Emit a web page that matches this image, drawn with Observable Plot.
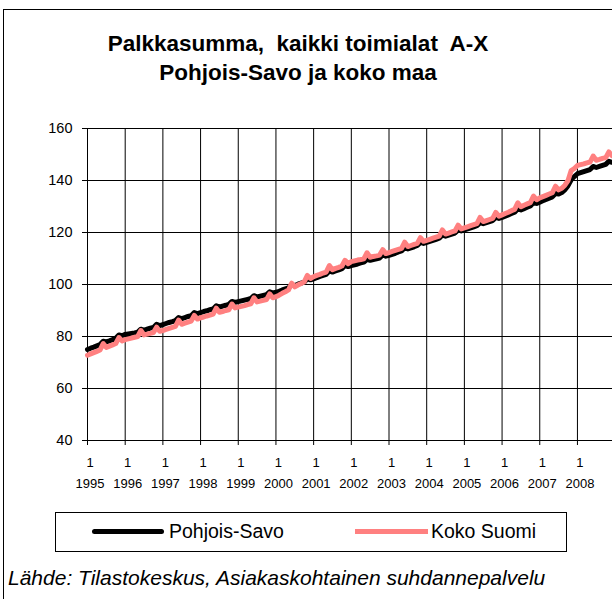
<!DOCTYPE html>
<html><head><meta charset="utf-8">
<script src="https://cdn.jsdelivr.net/npm/d3@7"></script>
<script src="https://cdn.jsdelivr.net/npm/@observablehq/plot@0.6"></script>
<style>
html,body{margin:0;padding:0;background:#fff;overflow:hidden;}
#wrap{position:relative;width:612px;height:599px;overflow:hidden;font-family:"Liberation Sans",Arial,sans-serif;color:#000;}
#frame{position:absolute;left:3px;top:9px;width:700px;height:700px;border:1px solid #000;box-sizing:border-box;}
.title{position:absolute;left:0;width:596px;text-align:center;font-weight:bold;font-size:22.5px;line-height:29px;white-space:pre;}
#chart{position:absolute;left:0;top:0;}
#legend{position:absolute;left:55px;top:512px;width:512px;height:40px;border:1px solid #000;box-sizing:border-box;}
.sw{position:absolute;height:5px;}
.lt{position:absolute;font-size:19.5px;line-height:22px;white-space:nowrap;}
#caption{position:absolute;left:8px;top:566px;font-size:21px;line-height:24px;font-style:italic;white-space:nowrap;}
</style>
</head><body>
<div id="wrap">
  <div id="frame"></div>
  <div id="chart"></div>
  <div class="title" id="t1" style="top:29px"></div>
  <div class="title" id="t2" style="top:58px"></div>
  <div id="legend"></div>
  <div id="caption"></div>
</div>
<script>
const titleLines = ["Palkkasumma,  kaikki toimialat  A-X", "Pohjois-Savo ja koko maa"];
const caption = "Lähde: Tilastokeskus, Asiakaskohtainen suhdannepalvelu";
const seriesNames = ["Pohjois-Savo", "Koko Suomi"];
const seriesColors = ["#000000", "#ff8080"];
const startYear = 1995;
const yearTicks = [1995,1996,1997,1998,1999,2000,2001,2002,2003,2004,2005,2006,2007,2008];
const yTicks = [40,60,80,100,120,140,160];

// monthly index values, Jan 1995 .. Dec 2008
const pohjoisSavo = [
  75.0,75.5,75.9,76.4,76.9,78.2,77.9,78.3,78.8,79.3,80.6,80.3,
  80.8,81.0,81.2,81.4,81.7,82.8,82.4,82.8,83.2,83.5,84.7,84.2,
  84.6,85.0,85.4,85.7,86.1,87.3,86.9,87.3,87.7,88.0,89.2,88.8,
  89.2,89.6,89.9,90.3,90.6,91.8,91.3,91.7,92.0,92.4,93.5,93.1,
  93.4,93.7,94.0,94.3,94.6,95.7,95.2,95.5,95.8,96.1,97.2,96.7,
  97.0,97.4,97.9,98.3,98.7,100.0,99.6,100.1,100.5,100.9,102.2,101.8,
  102.2,102.6,103.1,103.5,103.9,105.2,104.8,105.2,105.6,106.1,107.3,106.9,
  107.3,107.6,107.9,108.3,108.6,109.7,109.3,109.6,109.9,110.2,111.4,110.9,
  111.2,111.6,112.0,112.5,112.9,114.1,113.7,114.1,114.5,115.0,116.2,115.8,
  116.2,116.6,117.0,117.4,117.8,119.0,118.6,119.0,119.4,119.8,121.0,120.6,
  121.0,121.4,121.8,122.2,122.6,123.8,123.4,123.8,124.2,124.6,125.8,125.4,
  125.8,126.3,126.8,127.3,127.8,129.1,128.7,129.2,129.7,130.2,131.5,131.2,
  131.7,132.2,132.7,133.2,133.7,135.0,134.8,135.4,136.4,138.0,140.3,141.5,
  142.6,143.0,143.4,143.8,144.2,145.4,145.0,145.4,145.8,146.2,147.4,147.0
];
const kokoSuomi = [
  72.8,73.3,73.8,74.3,74.8,77.3,75.8,76.3,76.8,77.3,79.6,78.3,
  78.8,79.1,79.4,79.7,80.0,82.3,80.6,80.9,81.2,81.5,83.6,82.0,
  82.3,82.7,83.1,83.5,83.9,86.3,84.7,85.1,85.5,85.9,88.1,86.7,
  87.2,87.5,87.9,88.2,88.6,90.9,89.3,89.6,90.0,90.3,92.5,91.0,
  91.3,91.6,91.9,92.3,92.6,94.9,93.3,93.6,93.9,94.2,96.4,94.9,
  95.3,95.9,96.6,97.2,97.9,100.5,99.1,99.8,100.4,101.0,103.5,102.3,
  103.0,103.5,103.9,104.4,104.8,107.3,105.7,106.2,106.6,107.1,109.3,108.0,
  108.8,109.1,109.4,109.6,109.9,112.2,110.5,110.8,111.0,111.3,113.4,111.9,
  112.3,112.7,113.1,113.5,113.9,116.3,114.6,115.0,115.4,115.8,118.0,116.6,
  117.0,117.4,117.8,118.2,118.6,121.0,119.4,119.8,120.2,120.6,122.8,121.4,
  121.8,122.2,122.6,123.0,123.4,125.8,124.2,124.6,125.0,125.4,127.7,126.3,
  126.8,127.3,127.8,128.4,128.9,131.4,129.9,130.5,131.0,131.5,134.0,132.6,
  133.3,133.8,134.3,134.8,135.3,137.8,136.4,137.0,138.2,140.0,143.8,144.6,
  145.8,146.1,146.4,146.8,147.1,149.4,147.8,148.1,148.5,148.8,151.0,149.6
];

const toRows = (arr) => arr.map((v, i) => ({t: startYear + i / 12, v}));
const psRows = toRows(pohjoisSavo);
const ksRows = toRows(kokoSuomi);

document.getElementById("t1").textContent = titleLines[0];
document.getElementById("t2").textContent = titleLines[1];
document.getElementById("caption").textContent = caption;

const chart = Plot.plot({
  width: 612,
  height: 500,
  marginTop: 128,
  marginLeft: 87,
  marginRight: 0,
  marginBottom: 60,
  x: {domain: [1995, 2008.93]},
  y: {domain: [40, 160]},
  style: {fontFamily: "'Liberation Sans', Arial, sans-serif", color: "#000", background: "transparent", overflow: "visible"},
  marks: [
    Plot.gridX(yearTicks, {stroke: "#000", strokeOpacity: 1}),
    Plot.gridY(yTicks, {stroke: "#000", strokeOpacity: 1}),
    Plot.axisY(yTicks, {tickSize: 5, tickPadding: 10, fontSize: 14.5, label: null, tickFormat: d => String(d)}),
    Plot.axisX(yearTicks, {tickSize: 5, tickFormat: () => "", label: null}),
    Plot.axisX(yearTicks, {tickSize: 0, tickPadding: 17, tickFormat: () => "1", fontSize: 13, label: null, dx: 2.5}),
    Plot.axisX(yearTicks, {tickSize: 0, tickPadding: 38, tickFormat: d => String(d), fontSize: 13, label: null, dx: 2.5}),
    Plot.line(psRows, {x: "t", y: "v", stroke: seriesColors[0], strokeWidth: 5}),
    Plot.line(ksRows, {x: "t", y: "v", stroke: seriesColors[1], strokeWidth: 5})
  ]
});
document.getElementById("chart").appendChild(chart);

// legend
const legend = document.getElementById("legend");
const legendLayout = [
  {swLeft: 36, swWidth: 72, textLeft: 113, radius: "3px"},
  {swLeft: 299, swWidth: 73, textLeft: 375, radius: "0"}
];
seriesNames.forEach((name, i) => {
  const sw = document.createElement("div");
  sw.className = "sw";
  sw.style.left = legendLayout[i].swLeft + "px";
  sw.style.top = "16px";
  sw.style.width = legendLayout[i].swWidth + "px";
  sw.style.background = seriesColors[i];
  sw.style.borderRadius = legendLayout[i].radius;
  legend.appendChild(sw);
  const tx = document.createElement("div");
  tx.className = "lt";
  tx.style.left = legendLayout[i].textLeft + "px";
  tx.style.top = "7px";
  tx.textContent = name;
  legend.appendChild(tx);
});
</script>
</body></html>
